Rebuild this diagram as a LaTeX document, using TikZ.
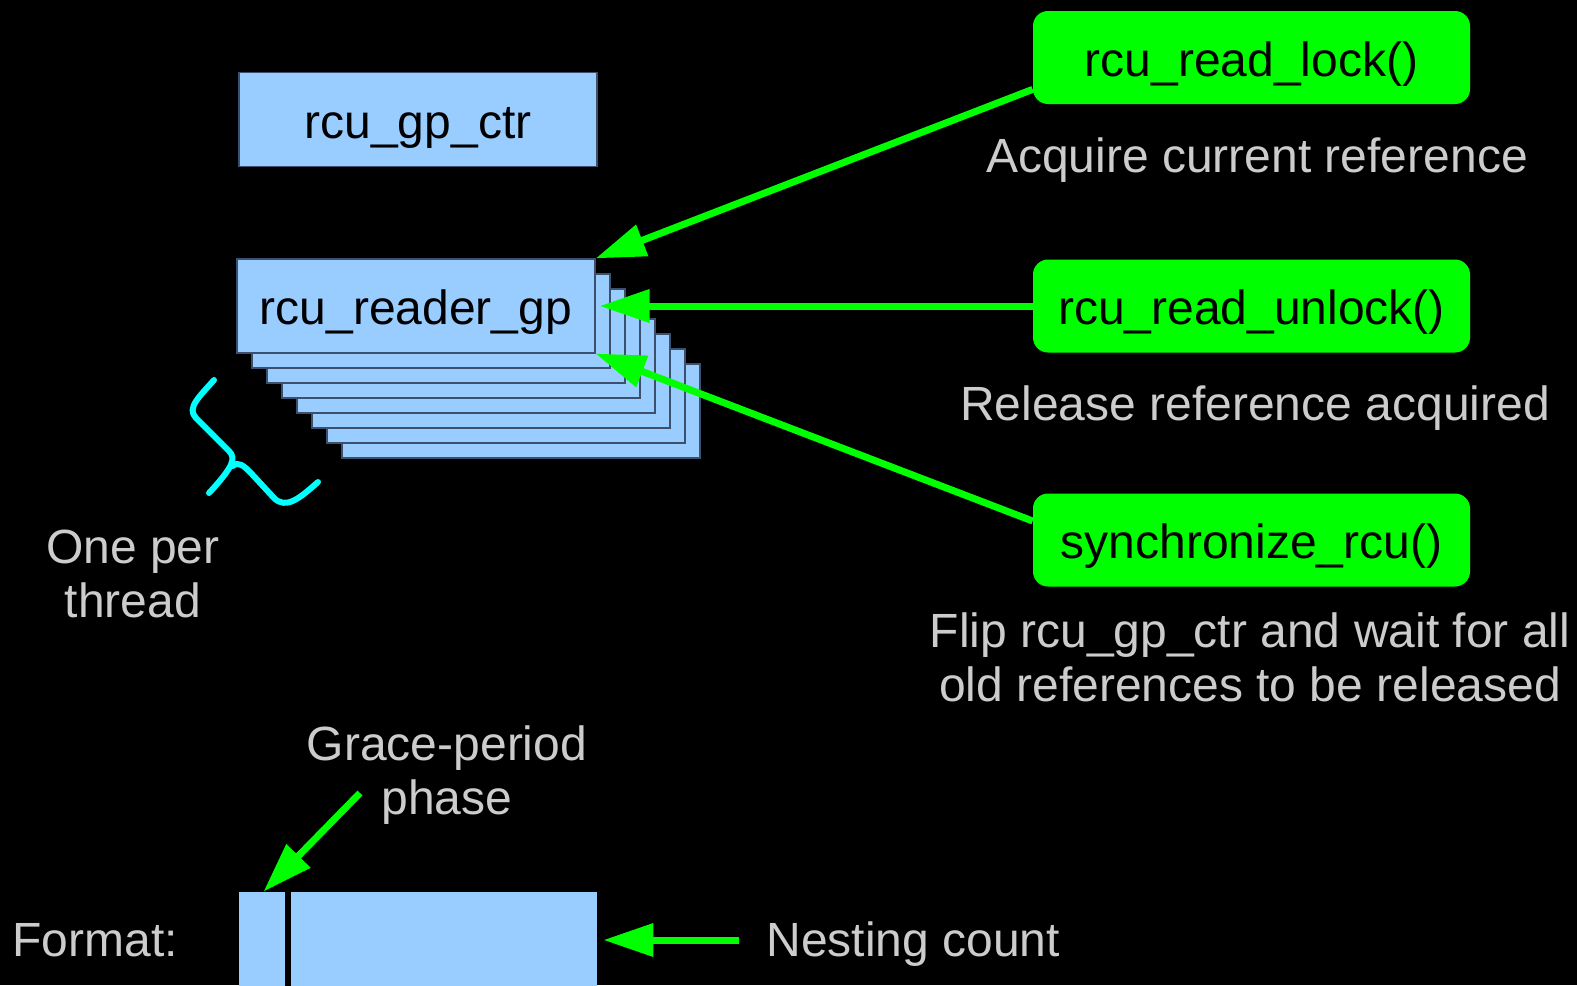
\documentclass[tikz,border=0pt]{standalone}
\usepackage{fontspec}
\setmainfont{Liberation Sans}
\usetikzlibrary{arrows.meta}

\definecolor{boxblue}{RGB}{153,204,255}
\definecolor{boxedge}{RGB}{60,80,110}
\definecolor{apigreen}{RGB}{0,255,0}
\definecolor{notegray}{RGB}{204,204,204}
\definecolor{bracecyan}{RGB}{0,255,255}

\begin{document}
\begin{tikzpicture}[x=0.5pt,y=-0.5pt,
    font=\fontsize{24}{26.6}\selectfont,
    call/.style={draw=apigreen,line width=3.5pt,-{Triangle[length=25pt,width=16pt]}}]

        \fill[black] (0,0) rectangle (1577,985);
        \useasboundingbox (0,0) rectangle (1577,985);

        \foreach \i in {7,...,1}
          \draw[fill=boxblue,draw=boxedge,line width=0.6pt] (237+15*\i,259+15*\i) rectangle +(358,94);

        \begin{scope}[every node/.style={rectangle,fill=boxblue,draw=boxedge,line width=0.6pt,
            minimum width=179pt,minimum height=47pt,inner sep=0pt,text height=18.5pt,text depth=0pt}]
          \node (ctr) at (418,119.5) {rcu\_gp\_ctr};
          \node (rg)  at (416,306)   {rcu\_reader\_gp};
        \end{scope}

        \begin{scope}[every node/.style={rectangle,rounded corners=7.5pt,fill=apigreen,
            minimum width=218.5pt,minimum height=46.5pt,inner sep=0pt,text height=18.5pt,text depth=0pt}]
          \node (lock)   at (1251.5,57.5) {rcu\_read\_lock()};
          \node (unlock) at (1251.5,306)  {rcu\_read\_unlock()};
          \node (sync)   at (1251.5,540)  {synchronize\_rcu()};
        \end{scope}

        \begin{scope}[every node/.style={text=notegray,align=center,inner sep=0pt,anchor=base}]
          \node (acq)    at (1257,172) {Acquire current reference};
          \node (rel)    at (1255,420) {Release reference acquired};
          \node (flip)   at (1250,701) {Flip rcu\_gp\_ctr and wait for all\\old references to be released};
          \node (oneper) at (133,617)  {One per\\thread};
          \node (gp)     at (447,814)  {Grace-period\\phase};
          \node[anchor=base west] (fmt)  at (12,956)  {Format:};
          \node[anchor=base west] (nest) at (766,956) {Nesting count};
        \end{scope}

        \begin{scope}[every node/.style={rectangle,fill=boxblue,minimum height=48pt,inner sep=0pt}]
          \node[minimum width=24.5pt]  (fmtphase) at (263.5,940) {};
          \node[minimum width=154.5pt] (fmtcount) at (442.5,940) {};
        \end{scope}
        \draw[black,line width=3pt] (fmtphase.north east) -- (fmtphase.south east);

        \coordinate (gptail) at (360,793);

        \draw[call] ([yshift=7.5pt]lock.south west) -- (rg.north east);
        \draw[call] (unlock.west) -- ([xshift=2pt]rg.east);
        \draw[call] ([yshift=9.5pt]sync.west) -- (rg.south east);
        \draw[call] (gptail) -- (fmtphase.north);
        \draw[call] ([xshift=-13.5pt]nest.west |- fmtcount.east) -- ([xshift=3pt]fmtcount.east);

        \draw[bracecyan,line width=3pt,line cap=round,line join=round]
          (214,380) .. controls (200,396) and (186,408) .. (196,418) -- (229,451)
          .. controls (236,458) and (234,466) .. (209,493);
        \draw[bracecyan,line width=3pt,line cap=round,line join=round]
          (233,466) .. controls (238,461) and (244,466) .. (250,472) -- (274,498)
          .. controls (286,510) and (300,498) .. (318,482);

      \end{tikzpicture}
\end{document}
